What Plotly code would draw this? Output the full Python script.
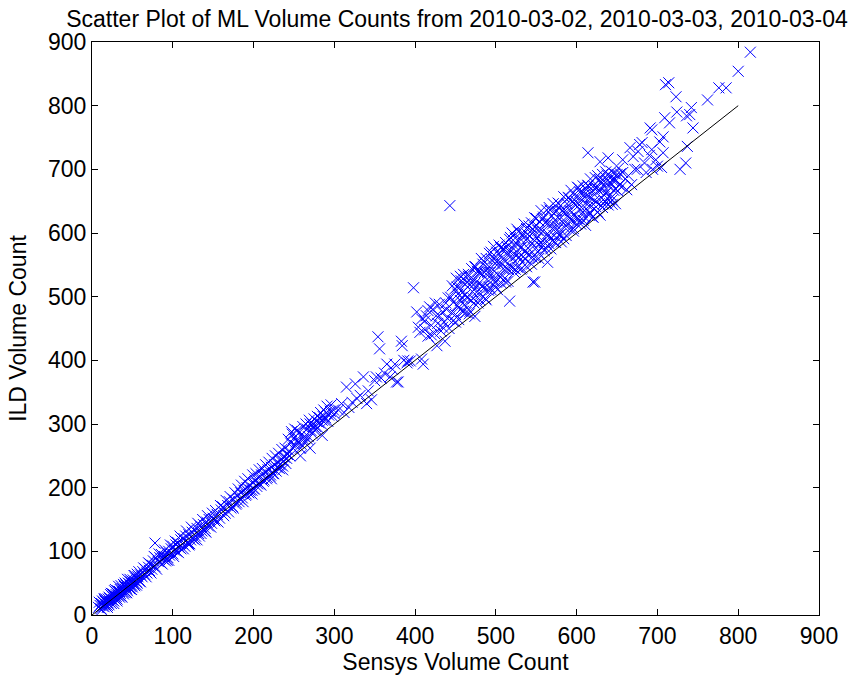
import plotly.graph_objects as go

# Sensys (x) vs ILD (y) volume counts
sensys = [
    8,10,11,12,13,14,15,16,17,18,19,20,20,21,22,23,24,25,25,26,27,28,29,30,30,31,32,33,34,35,35,36,37,38,39,40,40,41,42,43,44,45,46,47,48,49,50,51,52,53,54,55,56,57,58,59,60,
    14,18,22,26,30,34,38,42,46,50,15,24,33,44,52,
    9,12,16,19,23,27,28,31,36,37,41,43,47,49,53,55,58,60,13,21,29,39,48,56,
    62,63,65,66,68,70,71,72,74,75,76,78,79,78,82,84,85,86,88,90,91,92,94,95,96,98,100,100,102,104,105,106,108,110,110,112,114,115,116,118,120,120,122,124,125,126,128,130,130,132,134,135,136,138,140,142,144,145,148,150,
    64,67,70,73,77,80,83,87,90,93,97,101,103,107,109,113,117,121,123,127,131,133,137,141,143,147,149,
    95,120,140,
    152,155,158,160,162,165,168,170,172,175,178,180,182,184,186,188,190,192,194,195,198,200,200,202,204,206,208,210,212,214,216,218,220,222,224,226,228,230,232,234,236,238,240,242,244,246,248,250,252,254,255,258,260,262,264,266,268,270,272,274,276,278,280,282,284,286,288,290,292,295,298,300,
    153,156,159,163,166,169,171,174,177,179,181,183,185,187,189,191,193,196,199,201,203,205,207,209,211,213,215,217,219,221,223,225,227,229,231,233,235,237,239,241,243,245,247,249,251,253,256,259,261,263,265,267,269,271,273,275,277,279,281,283,285,287,289,291,293,296,299,
    175,198,222,236,258,270,285,
    305,309,312,315,318,322,326,328,332,336,340,342,346,350,352,354,356,358,362,365,369,372,375,377,379,383,384,386,390,391,394,398,
    402,404,406,408,408,410,412,414,416,418,420,422,424,426,427,428,430,432,434,436,437,438,440,442,443,
    412,416,420,425,430,434,439,441,
    444,445,446,447,448,449,450,451,452,453,
    454,455,456,457,458,459,460,461,462,463,
    464,465,466,467,468,469,470,471,472,473,
    474,475,476,477,478,479,480,481,482,483,
    484,485,486,487,488,489,490,491,492,493,
    494,495,496,497,498,499,500,501,502,503,
    504,505,506,507,508,509,510,511,512,513,
    514,515,516,517,518,519,520,521,522,523,
    524,525,526,527,528,529,530,531,532,533,
    534,535,536,537,538,539,540,541,542,543,
    544,545,546,547,548,549,550,551,552,553,
    554,555,556,557,558,559,560,561,562,563,
    564,565,566,567,568,569,570,571,572,573,
    574,575,576,577,578,579,580,581,582,583,
    584,585,586,587,588,589,590,591,592,593,
    594,595,596,597,598,599,600,601,602,603,
    604,605,606,607,608,609,610,611,612,613,
    614,615,616,617,618,619,620,621,622,623,
    624,625,626,627,628,629,630,631,632,633,
    634,635,636,637,638,639,640,641,642,643,
    644,645,646,647,648,649,650,651,652,653,654,
    450,452,454,456,458,460,462,464,466,468,470,472,474,476,478,480,482,484,486,488,
    490,492,494,496,498,500,502,504,506,508,510,512,514,516,518,520,522,524,526,528,
    530,532,534,536,538,540,542,544,546,548,550,552,554,556,558,560,562,564,566,568,
    570,572,574,576,578,580,582,584,586,588,590,592,594,596,598,600,602,604,606,608,
    610,612,614,616,618,620,622,624,626,628,630,632,634,636,638,640,642,644,646,648,
    474,517,546,548,564,614,629,639,
    656,657,657,660,662,664,666,668,670,672,675,676,678,681,684,686,690,693,693,694,698,700,703,705,707,707,709,710,714,715,723,724,728,735,737,740,742,744,736,762,776,785,800,815,691,
]
ild = [
    12,15,10,18,14,20,13,22,17,24,15,25,19,28,21,26,18,30,24,33,22,31,27,36,29,25,38,31,28,40,34,30,42,36,33,45,39,35,47,41,38,50,44,41,52,47,44,55,49,46,58,52,50,60,55,53,63,
    16,20,26,28,32,37,41,44,49,53,25,34,45,56,62,
    20,8,26,12,32,18,38,22,46,28,50,35,56,40,62,47,68,52,22,16,40,48,45,64,
    60,68,64,72,66,75,70,80,72,78,85,76,90,113,84,90,82,95,88,92,85,98,90,100,94,104,96,108,102,110,100,114,106,118,104,112,120,108,124,114,126,110,118,130,120,134,124,136,118,128,140,128,132,142,136,146,140,150,144,152,
    74,60,82,66,92,72,96,80,102,86,110,92,116,98,124,104,132,112,138,118,144,124,150,130,156,138,160,
    86,112,132,
    148,158,152,165,170,160,172,178,168,182,174,188,178,192,184,196,188,200,192,204,196,208,198,212,202,215,206,220,210,224,214,228,218,232,222,236,226,240,230,244,234,248,238,252,258,270,284,278,266,290,272,262,284,276,270,292,280,300,286,296,290,304,294,310,300,312,306,318,304,320,312,316,
    164,146,172,156,180,162,186,170,192,176,198,182,204,178,210,190,214,196,220,198,222,206,228,204,230,212,236,216,240,220,246,222,250,232,254,236,260,242,262,246,276,250,288,262,292,272,286,268,296,280,300,276,306,290,300,308,296,312,302,318,306,322,310,328,314,330,322,
    168,190,214,228,250,262,282,
    322,332,318,358,326,334,363,340,345,374,332,352,338,368,374,437,418,372,380,394,374,386,394,366,366,430,423,400,396,399,399,514,
    476,452,444,465,402,394,448,470,438,484,455,480,442,470,423,458,488,446,476,460,430,490,466,450,643,
    462,478,440,490,470,452,480,498,
    499,475,517,462,492,512,472,529,486,504,
    464,515,494,525,477,507,535,487,503,475,
    523,498,532,473,519,494,544,508,527,490,
    521,547,507,540,490,521,538,504,560,516,
    551,513,538,497,560,527,545,510,568,538,
    511,558,526,579,540,552,523,570,511,552,
    581,531,565,521,574,544,557,529,585,545,
    578,524,572,590,548,564,600,545,575,538,
    592,564,583,546,602,562,591,543,578,597,
    563,614,559,589,547,598,576,611,566,586,
    616,562,601,580,624,562,612,592,604,560,
    618,585,635,578,603,625,585,616,576,636,
    599,616,583,636,575,627,607,646,596,620,
    585,635,605,647,597,622,643,586,635,616,
    657,609,635,596,646,627,656,606,635,667,
    619,649,603,660,628,650,614,672,622,644,
    664,614,652,632,674,626,661,612,668,645,
    674,628,656,685,642,664,625,674,651,687,
    641,671,633,667,684,628,680,655,692,646,
    673,650,696,664,682,644,673,690,660,697,
    652,682,667,693,646,683,692,666,702,675,693,
    460,515,483,532,499,477,519,499,535,477,521,497,547,515,539,495,537,517,554,495,
    538,515,570,531,559,515,556,533,577,551,575,523,566,542,593,560,581,543,606,561,
    577,545,599,572,607,565,595,551,606,588,623,570,603,584,622,572,617,595,640,592,
    614,586,633,611,646,598,634,591,631,615,655,624,649,607,645,623,671,638,663,620,
    656,638,675,632,655,625,670,649,690,646,668,640,682,663,691,652,679,645,686,669,
    469,493,523,523,554,726,712,718,
    673,695,715,685,668,690,734,676,720,700,700,728,739,742,710,695,722,731,762,700,715,705,743,703,726,751,781,833,836,773,814,790,700,710,736,786,797,765,784,809,828,828,854,884,765,
]

# Reference line y = x
line_x = [0, 800]
line_y = [0, 800]

title_text = "Scatter Plot of ML Volume Counts from 2010-03-02, 2010-03-03, 2010-03-04"
x_title = "Sensys Volume Count"
y_title = "ILD Volume Count"
tick_vals = [0, 100, 200, 300, 400, 500, 600, 700, 800, 900]

font_family = "Liberation Sans, Arial, sans-serif"
fs = 23

fig = go.Figure()
fig.add_trace(go.Scatter(
    x=sensys, y=ild, mode="markers",
    marker=dict(symbol="x-thin", size=11, color="#0000ff",
                line=dict(width=1, color="#0000ff")),
    showlegend=False, hoverinfo="x+y",
))
fig.add_trace(go.Scatter(
    x=line_x, y=line_y, mode="lines",
    line=dict(color="black", width=1),
    showlegend=False, hoverinfo="skip",
))

axis_common = dict(
    range=[0, 900], tickvals=tick_vals, ticks="inside", ticklen=6,
    tickcolor="black", showline=True, linecolor="black", linewidth=1,
    mirror="ticks", showgrid=False, zeroline=False,
    tickfont=dict(family=font_family, size=fs, color="black"),
)

fig.update_layout(
    width=855, height=679,
    margin=dict(l=92, r=36, t=42, b=62),
    paper_bgcolor="white", plot_bgcolor="white",
    title=dict(text=title_text, x=457 / 855, xanchor="center",
               xref="container", y=1 - 18.5 / 679, yanchor="middle",
               yref="container",
               font=dict(family=font_family, size=fs, color="black")),
    xaxis=dict(**axis_common,
               title=dict(text=x_title, standoff=2,
                          font=dict(family=font_family, size=fs, color="black"))),
    yaxis=dict(**axis_common,
               title=dict(text=y_title, standoff=14,
                          font=dict(family=font_family, size=fs, color="black"))),
)

fig.write_html("out.html")
